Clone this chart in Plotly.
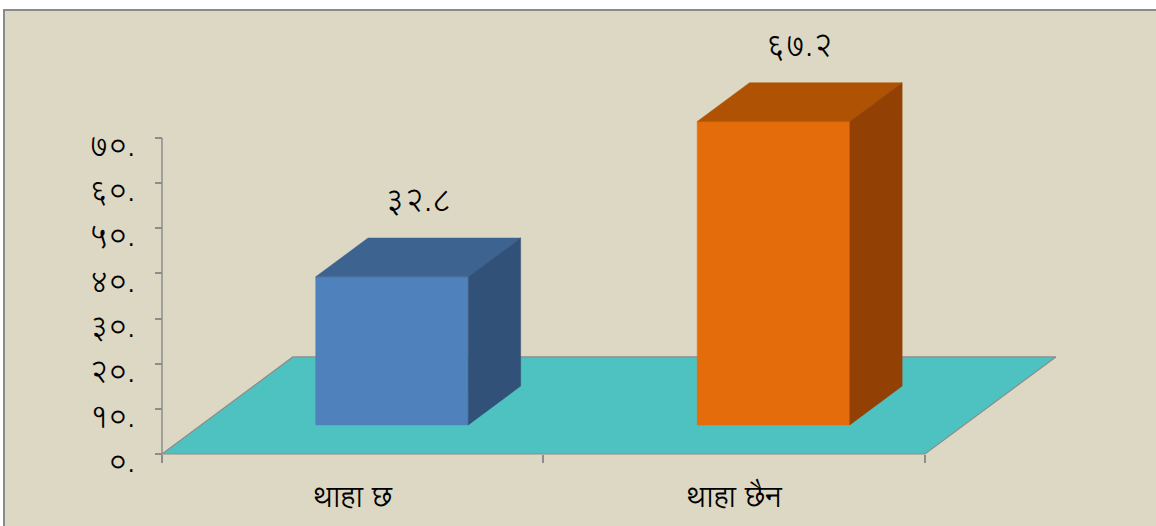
import plotly.graph_objects as go

# ---- data ----
categories = ["थाहा छ", "थाहा छैन"]
values = [32.8, 67.2]
value_labels = ["३२.८", "६७.२"]
y_tick_values = [0, 10, 20, 30, 40, 50, 60, 70]
y_tick_labels = ["०.", "१०.", "२०.", "३०.", "४०.", "५०.", "६०.", "७०."]

# ---- styling / geometry ----
W, H = 1156, 526
BG = "#DDD8C3"
FLOOR = "#4EC2C1"
AXIS_GREY = "#8C8C8C"
FRONT = ["#4F81BD", "#E46C0A"]
TOP = ["#3D6390", "#B05204"]
SIDE = ["#325178", "#924003"]
BAR_W = 0.4          # in category units
DX, DY = 0.343, 21.5  # oblique depth vector (x units, value units)
D0, D1 = 0.3, 0.7     # bar depth extent (fraction of floor depth)
XR = [-0.4246, 2.6055]
YR = [-15.95, 100.58]
FONT = "Lohit Devanagari, Noto Sans Devanagari, FreeSans, Noto Sans, sans-serif"

n = len(categories)
fig = go.Figure()


def poly(xs, ys, color, line_color=None):
    fig.add_trace(go.Scatter(
        x=xs + [xs[0]], y=ys + [ys[0]], mode="lines", fill="toself",
        fillcolor=color,
        line=dict(color=line_color or color, width=1.2 if line_color else 0.5),
        hoverinfo="skip", showlegend=False))


# floor
poly([0, n, n + DX, DX], [0, 0, DY, DY], FLOOR, AXIS_GREY)

# bars
for i, v in enumerate(values):
    cx = i + 0.5
    xl = cx - BAR_W / 2 + D0 * DX
    xr = cx + BAR_W / 2 + D0 * DX
    yb = D0 * DY
    yt = v + D0 * DY
    ddx = (D1 - D0) * DX
    ddy = (D1 - D0) * DY
    poly([xl, xr, xr, xl], [yb, yb, yt, yt], FRONT[i])
    poly([xl, xr, xr + ddx, xl + ddx], [yt, yt, yt + ddy, yt + ddy], TOP[i])
    poly([xr, xr + ddx, xr + ddx, xr], [yb, yb + ddy, yt + ddy, yt], SIDE[i])
    fig.add_annotation(x=cx + 0.5 * DX, y=v + 23.0, text=value_labels[i],
                       showarrow=False, xref="x", yref="y",
                       font=dict(family=FONT, size=30, color="black"))

# value axis line
fig.add_shape(type="line", xref="x", yref="y", x0=0, x1=0,
              y0=y_tick_values[0], y1=y_tick_values[-1],
              line=dict(color=AXIS_GREY, width=1.5))

# chart frame
fig.add_shape(type="rect", xref="paper", yref="paper", layer="below",
              x0=4 / W, x1=1.02, y0=-0.02, y1=1 - 10 / H,
              fillcolor=BG, line=dict(color="#8A8A8A", width=2))

fig.update_layout(
    width=W, height=H,
    margin=dict(l=0, r=0, t=0, b=0),
    paper_bgcolor="white", plot_bgcolor="rgba(0,0,0,0)",
    showlegend=False,
    xaxis=dict(range=XR, anchor="free", position=(H - 454) / H,
               tickvals=[i + 0.5 for i in range(n)], ticktext=categories,
               ticks="", showgrid=False, zeroline=False, showline=False,
               tickfont=dict(family=FONT, size=29, color="black"),
               ticklabelstandoff=23,
               minor=dict(tickvals=list(range(n + 1)), ticks="outside",
                          ticklen=8, tickcolor=AXIS_GREY, tickwidth=1.5,
                          showgrid=False)),
    yaxis=dict(range=YR, anchor="free", position=162 / W,
               tickvals=y_tick_values, ticktext=y_tick_labels,
               ticks="outside", ticklen=7, tickcolor=AXIS_GREY, tickwidth=1.5,
               showgrid=False, zeroline=False, showline=False,
               tickfont=dict(family=FONT, size=29, color="black"),
               ticklabelstandoff=14, ticklabelshift=8),
)

fig.write_html("out.html", config={"displayModeBar": False},
               post_script="document.body.style.margin='0';")
